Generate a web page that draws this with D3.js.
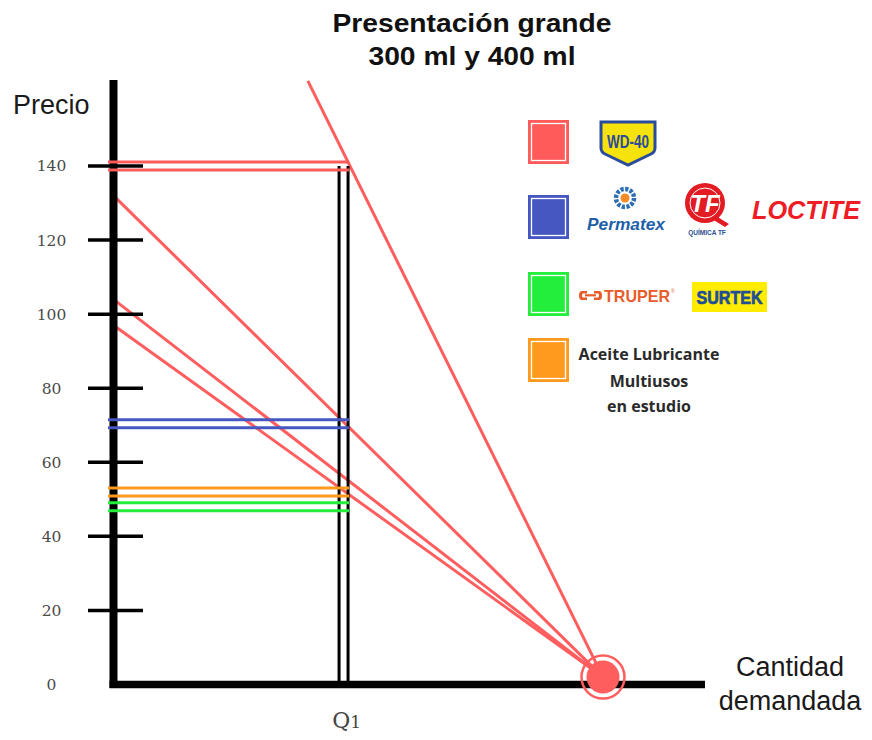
<!DOCTYPE html>
<html>
<head>
<meta charset="utf-8">
<script src="https://cdn.jsdelivr.net/npm/d3@7"></script>
<style>
  body { margin: 0; background: #fff; }
  svg { display: block; }
</style>
</head>
<body>
<svg id="chart" width="872" height="740"></svg>
<script>
// Price axis ticks
const priceTicks = [0, 20, 40, 60, 80, 100, 120, 140];
// Brand groups, in legend order
const groupNames = ["WD-40", "Permatex / Química TF / Loctite", "Truper / Surtek", "Aceite Lubricante Multiusos en estudio"];
// Price level of each group at quantity Q1
const groupPrices = [140, 70.4, 48, 52];
// Demand lines: price where each one meets the price axis (quantity 0)
const demandIntercepts = [269, 132, 104, 97];
// Every demand line closes on the same point near the quantity axis
const demandEndQ = 10;
const demandEndP = 2;
// Quantity marked as Q1
const q1 = 4.7;
// Highest price shown on the price axis
const priceTop = 163;

const groupColors = ["#ff5b5b", "#4657c2", "#24ee3c", "#ff9a1e"];
const redLine = "#ff5e5e";

const svg = d3.select("#chart");

const x = d3.scaleLinear().domain([0, demandEndQ]).range([113.5, 603]);
const y = d3.scaleLinear().domain([0, 140]).range([684.5, 166]);

// ---- Title ----
const title = svg.append("g")
  .attr("font-family", "'Liberation Sans', Arial, sans-serif")
  .attr("font-weight", "bold").attr("font-size", 26).attr("fill", "#111")
  .attr("text-anchor", "middle");
title.append("text").attr("x", 472).attr("y", 32)
  .attr("textLength", 279).attr("lengthAdjust", "spacingAndGlyphs")
  .text("Presentación grande");
title.append("text").attr("x", 472).attr("y", 65)
  .attr("textLength", 207).attr("lengthAdjust", "spacingAndGlyphs")
  .text("300 ml y 400 ml");

// ---- Demand lines (drawn under the axes) ----
const demandG = svg.append("g");
demandIntercepts.forEach(p0 => {
  // start where the line enters the visible price range
  const qStart = p0 > priceTop ? demandEndQ * (p0 - priceTop) / (p0 - demandEndP) : 0;
  const pStart = p0 > priceTop ? priceTop : p0;
  demandG.append("line")
    .attr("x1", x(qStart)).attr("y1", y(pStart))
    .attr("x2", x(demandEndQ)).attr("y2", y(demandEndP))
    .attr("stroke", redLine).attr("stroke-width", 3);
});

// ---- Q1 double vertical line ----
[-4.5, 4.5].forEach(dx => {
  svg.append("line")
    .attr("x1", x(q1) + dx).attr("x2", x(q1) + dx)
    .attr("y1", y(140)).attr("y2", y(0))
    .attr("stroke", "#000").attr("stroke-width", 3);
});

// ---- Axes ----
svg.append("line").attr("x1", x(0)).attr("x2", x(0)).attr("y1", 80).attr("y2", 688)
  .attr("stroke", "#000").attr("stroke-width", 8);
svg.append("line").attr("x1", x(0) - 4).attr("x2", 705).attr("y1", y(0)).attr("y2", y(0))
  .attr("stroke", "#000").attr("stroke-width", 7.5);

// tick marks crossing the price axis
svg.append("g").selectAll("line")
  .data(priceTicks.filter(d => d > 0))
  .join("line")
  .attr("x1", 88).attr("x2", 143)
  .attr("y1", d => y(d)).attr("y2", d => y(d))
  .attr("stroke", "#000").attr("stroke-width", 3.5);

// tick labels
const yAxis = svg.append("g")
  .attr("transform", `translate(${x(0)},0)`)
  .call(d3.axisLeft(y).tickValues(priceTicks).tickSize(0).tickFormat(d3.format("d")));
yAxis.select(".domain").remove();
yAxis.selectAll("text")
  .attr("x", -62).attr("text-anchor", "middle")
  .attr("font-family", "'DejaVu Serif', serif").attr("font-size", 15.5)
  .attr("fill", "#4a4a4a");

// ---- Price levels at Q1 (double horizontal lines) ----
const levelG = svg.append("g");
groupPrices.forEach((p, i) => {
  [-4, 4].forEach(dy => {
    levelG.append("line")
      .attr("x1", 108).attr("x2", x(q1) + 5.5)
      .attr("y1", y(p) + dy).attr("y2", y(p) + dy)
      .attr("stroke", groupColors[i]).attr("stroke-width", 3);
  });
});

// ---- Closing point of the demand lines ----
svg.append("circle").attr("cx", x(demandEndQ)).attr("cy", y(demandEndP)).attr("r", 16.5)
  .attr("fill", redLine);
svg.append("circle").attr("cx", x(demandEndQ)).attr("cy", y(demandEndP)).attr("r", 21.5)
  .attr("fill", "none").attr("stroke", redLine).attr("stroke-width", 2.5);

// ---- Axis titles ----
const sans = "'Liberation Sans', Arial, sans-serif";
svg.append("text").attr("x", 13).attr("y", 114)
  .attr("font-family", sans).attr("font-size", 27).attr("fill", "#1a1a1a")
  .text("Precio");
const qt = svg.append("text").attr("text-anchor", "middle")
  .attr("font-family", sans).attr("font-size", 27).attr("fill", "#1a1a1a");
qt.append("tspan").attr("x", 790).attr("y", 676).text("Cantidad");
qt.append("tspan").attr("x", 790).attr("y", 710).text("demandada");

const q1Label = svg.append("text").attr("x", x(q1) + 3).attr("y", 728)
  .attr("text-anchor", "middle")
  .attr("font-family", "'DejaVu Serif', serif").attr("font-size", 22).attr("fill", "#444");
q1Label.append("tspan").text("Q");
q1Label.append("tspan").attr("font-size", 17).text("1");

// ---- Legend ----
const legendRowY = [142, 217, 294, 360];
const legend = svg.append("g");
groupNames.forEach((name, i) => {
  const cy = legendRowY[i];
  legend.append("rect").attr("x", 528).attr("y", cy - 22).attr("width", 41).attr("height", 44)
    .attr("fill", groupColors[i]).append("title").text(name);
  legend.append("rect").attr("x", 531.5).attr("y", cy - 18.5).attr("width", 34).attr("height", 37)
    .attr("fill", "none").attr("stroke", "#fff").attr("stroke-width", 1.3);
});

// WD-40 badge
const wd = legend.append("g");
wd.append("path")
  .attr("d", "M601,122 H655 V148 Q655,152 651,154 L628,165 L605,154 Q601,152 601,148 Z")
  .attr("fill", "#f6e20c").attr("stroke", "#2b4c9b").attr("stroke-width", 3);
wd.append("text").attr("x", 628).attr("y", 148).attr("text-anchor", "middle")
  .attr("font-family", "'Liberation Sans Narrow', 'Liberation Sans', sans-serif")
  .attr("font-weight", "bold").attr("font-size", 18).attr("fill", "#2b4c9b")
  .attr("textLength", 42).attr("lengthAdjust", "spacingAndGlyphs")
  .text("WD-40");

// Permatex
const pm = legend.append("g");
pm.append("circle").attr("cx", 625).attr("cy", 198).attr("r", 9)
  .attr("fill", "none").attr("stroke", "#2a6db3").attr("stroke-width", 4.5)
  .attr("stroke-dasharray", "3.2 1.5");
pm.append("circle").attr("cx", 625).attr("cy", 198).attr("r", 4.5).attr("fill", "#f28c28");
pm.append("text").attr("x", 626).attr("y", 230).attr("text-anchor", "middle")
  .attr("font-family", sans).attr("font-weight", "bold").attr("font-style", "italic")
  .attr("font-size", 17).attr("fill", "#1f5fa8")
  .attr("textLength", 78).attr("lengthAdjust", "spacingAndGlyphs")
  .text("Permatex");

// Química TF
const tf = legend.append("g");
tf.append("path").attr("d", "M716,216 L729,224 L725,227 L712,219 Z").attr("fill", "#e31b23");
tf.append("circle").attr("cx", 705).attr("cy", 203).attr("r", 20).attr("fill", "#e31b23");
tf.append("circle").attr("cx", 705).attr("cy", 203).attr("r", 15).attr("fill", "none")
  .attr("stroke", "#fff").attr("stroke-width", 1);
tf.append("text").attr("x", 705).attr("y", 212).attr("text-anchor", "middle")
  .attr("font-family", sans).attr("font-weight", "bold").attr("font-style", "italic")
  .attr("font-size", 24).attr("fill", "#fff").text("TF");
tf.append("text").attr("x", 707).attr("y", 235).attr("text-anchor", "middle")
  .attr("font-family", sans).attr("font-weight", "bold")
  .attr("font-size", 6.5).attr("fill", "#2a4d8f").text("QUÍMICA TF");

// Loctite
legend.append("text").attr("x", 752).attr("y", 219)
  .attr("font-family", sans).attr("font-weight", "bold").attr("font-style", "italic")
  .attr("font-size", 26).attr("fill", "#ee1c25")
  .attr("textLength", 108).attr("lengthAdjust", "spacingAndGlyphs")
  .text("LOCTITE");

// Truper
const tr = legend.append("g").attr("fill", "#ea5b2b");
tr.append("path").attr("d", "M587,291 h-5 q-3,0 -3,4.5 q0,4.5 3,4.5 h5 v-2.5 h-4 q-1,0 -1,-2 q0,-2 1,-2 h4 Z");
tr.append("path").attr("d", "M594,291 h5 q3,0 3,4.5 q0,4.5 -3,4.5 h-5 v-2.5 h4 q1,0 1,-2 q0,-2 -1,-2 h-4 Z");
tr.append("rect").attr("x", 585).attr("y", 294.2).attr("width", 11).attr("height", 2.2);
tr.append("text").attr("x", 604).attr("y", 302)
  .attr("font-family", sans).attr("font-weight", "bold").attr("font-size", 16.5)
  .attr("textLength", 66).attr("lengthAdjust", "spacingAndGlyphs")
  .text("TRUPER");
tr.append("text").attr("x", 671).attr("y", 293).attr("font-family", sans)
  .attr("font-size", 5).text("®");

// Surtek
legend.append("rect").attr("x", 692).attr("y", 282).attr("width", 75).attr("height", 30)
  .attr("fill", "#ffec00");
legend.append("text").attr("x", 729.5).attr("y", 304).attr("text-anchor", "middle")
  .attr("font-family", sans).attr("font-weight", "bold").attr("font-size", 17.5)
  .attr("fill", "#1f4e96").attr("stroke", "#1f4e96").attr("stroke-width", 0.7)
  .attr("textLength", 66).attr("lengthAdjust", "spacingAndGlyphs")
  .text("SURTEK");

// Product under study
const study = legend.append("text").attr("text-anchor", "middle")
  .attr("font-family", "'Open Sans', sans-serif").attr("font-weight", "bold")
  .attr("font-size", 16).attr("fill", "#2a2a2a");
study.append("tspan").attr("x", 649).attr("y", 360).text("Aceite Lubricante");
study.append("tspan").attr("x", 649).attr("y", 387).text("Multiusos");
study.append("tspan").attr("x", 649).attr("y", 412).text("en estudio");
</script>
</body>
</html>
